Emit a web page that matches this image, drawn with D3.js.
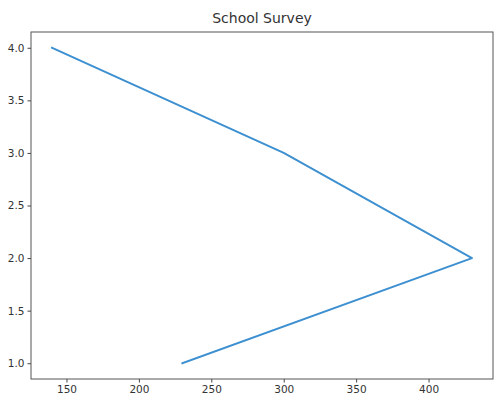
<!DOCTYPE html>
<html><head><meta charset="utf-8">
<script src="https://cdn.jsdelivr.net/npm/d3@7"></script>
<style>body{margin:0;background:#fff}svg{display:block;font-family:"DejaVu Sans",sans-serif}</style>
</head><body>
<svg id="c" width="500" height="404"></svg>
<script>
const title = "School Survey";
const xValues = [230, 430, 300, 140];
const yValues = [1, 2, 3, 4];
const xTicks = [150, 200, 250, 300, 350, 400];
const yTicks = [1.0, 1.5, 2.0, 2.5, 3.0, 3.5, 4.0];

const svg = d3.select("#c");
const L = 31, R = 493, T = 32, B = 379;
const xMin = d3.min(xValues), xMax = d3.max(xValues);
const xPad = (xMax - xMin) * 0.05;
const yMin = d3.min(yValues), yMax = d3.max(yValues);
const yPad = (yMax - yMin) * 0.05;
const x = d3.scaleLinear().domain([xMin - xPad, xMax + xPad]).range([L, R]);
const y = d3.scaleLinear().domain([yMin - yPad, yMax + yPad]).range([B, T]);

const xAxis = svg.append("g").attr("transform", `translate(0,${B})`)
  .call(d3.axisBottom(x).tickValues(xTicks).tickFormat(d3.format("d")).tickSize(3.5).tickPadding(3));
const yAxis = svg.append("g").attr("transform", `translate(${L},0)`)
  .call(d3.axisLeft(y).tickValues(yTicks).tickFormat(d3.format(".1f")).tickSize(3.5).tickPadding(3));
[xAxis, yAxis].forEach(a => {
  a.select(".domain").remove();
  a.selectAll("line").attr("stroke", "#444").attr("stroke-width", 1);
  a.selectAll("text").attr("fill", "#333").style("font-size", "10.5px").style("font-family", '"DejaVu Sans",sans-serif');
});

svg.append("rect").attr("x", L).attr("y", T).attr("width", R - L).attr("height", B - T)
  .attr("fill", "none").attr("stroke", "#555").attr("stroke-width", 1);

const pts = xValues.map((v, i) => [v, yValues[i]]);
svg.append("path").datum(pts)
  .attr("d", d3.line().x(d => x(d[0])).y(d => y(d[1])))
  .attr("fill", "none").attr("stroke", "#3c8fd0").attr("stroke-width", 1.9)
  .attr("stroke-linejoin", "round").attr("stroke-linecap", "square");

svg.append("text").attr("x", (L + R) / 2).attr("y", 23).attr("text-anchor", "middle")
  .attr("fill", "#333").style("font-size", "14px").text(title);
</script>
</body></html>
